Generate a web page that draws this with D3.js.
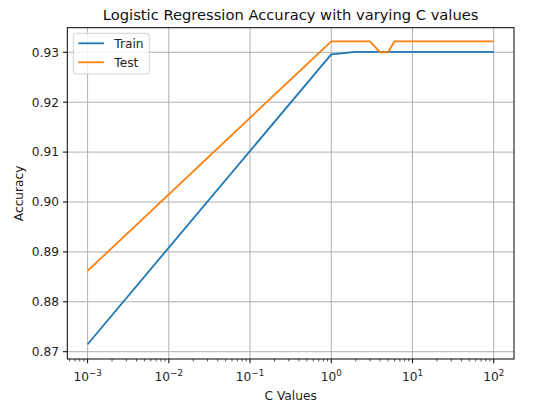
<!DOCTYPE html>
<html>
<head>
<meta charset="utf-8">
<script src="https://cdn.jsdelivr.net/npm/d3@7"></script>
<style>
    body{margin:0;background:#fff;}
    svg{font-family:"DejaVu Sans",sans-serif;}
</style>
</head>
<body>
<svg id="chart"></svg>
<script>
// data
const c_values = [0.001, 1, 2, 3, 4, 5, 6, 100];
const train_acc = [0.8715, 0.9296, 0.9301, 0.9301, 0.9301, 0.9301, 0.9301, 0.9301];
const test_acc = [0.8862, 0.9322, 0.9322, 0.9322, 0.9300, 0.9300, 0.9322, 0.9322];
const y_ticks = [0.87, 0.88, 0.89, 0.90, 0.91, 0.92, 0.93];
const x_exponents = [-3, -2, -1, 0, 1, 2];
const series_names = ["Train", "Test"];
const series_colors = ["#1f77b4", "#ff7f0e"];

const width = 540, height = 420;
const margin = {left:67.3, right:26, top:27.7, bottom:61};
const inner_width = width - margin.left - margin.right;
const inner_height = height - margin.top - margin.bottom;
const font_size = 12.2;

const svg = d3.select("#chart").attr("width", width).attr("height", height);
const chart = svg.append("g")
    .attr("transform", `translate(${margin.left},${margin.top})`);

const xscale = d3.scaleLog()
    .domain([Math.pow(10, -3.25), Math.pow(10, 2.25)])
    .range([0, inner_width]);
const yscale = d3.scaleLinear()
    .domain([0.86854, 0.93493])
    .range([inner_height, 0]);

// grid
chart.append("g").selectAll("line.gx")
    .data(x_exponents)
    .join("line")
    .attr("x1", d => xscale(Math.pow(10, d))).attr("x2", d => xscale(Math.pow(10, d)))
    .attr("y1", 0).attr("y2", inner_height)
    .attr("stroke", "#b0b0b0").attr("stroke-width", 1);
chart.append("g").selectAll("line.gy")
    .data(y_ticks)
    .join("line")
    .attr("y1", d => yscale(d)).attr("y2", d => yscale(d))
    .attr("x1", 0).attr("x2", inner_width)
    .attr("stroke", "#b0b0b0").attr("stroke-width", 1);

// lines
const series = [train_acc, test_acc];
const line = d3.line()
    .x((d, i) => xscale(c_values[i]))
    .y(d => yscale(d));
chart.append("g").selectAll("path")
    .data(series)
    .join("path")
    .attr("d", d => line(d))
    .attr("fill", "none")
    .attr("stroke", (d, i) => series_colors[i])
    .attr("stroke-width", 1.8)
    .attr("stroke-linejoin", "round");

// x axis: major and minor ticks
const minor = [];
for (let e = -4; e <= 2; e++) {
    for (let m = 2; m <= 9; m++) {
        const v = m * Math.pow(10, e);
        if (v >= xscale.domain()[0] && v <= xscale.domain()[1]) minor.push(v);
    }
}
const xaxis_group = chart.append("g").attr("transform", `translate(0,${inner_height})`);
xaxis_group.selectAll("line.minor")
    .data(minor)
    .join("line")
    .attr("x1", d => xscale(d)).attr("x2", d => xscale(d))
    .attr("y1", 0).attr("y2", 2.4)
    .attr("stroke", "#000").attr("stroke-width", 0.7);
xaxis_group.selectAll("line.major")
    .data(x_exponents)
    .join("line")
    .attr("x1", d => xscale(Math.pow(10, d))).attr("x2", d => xscale(Math.pow(10, d)))
    .attr("y1", 0).attr("y2", 4.3)
    .attr("stroke", "#000").attr("stroke-width", 1);
const xlabels = xaxis_group.selectAll("text")
    .data(x_exponents)
    .join("text")
    .attr("x", d => xscale(Math.pow(10, d)))
    .attr("y", 22)
    .attr("text-anchor", "middle")
    .attr("font-size", font_size)
    .attr("fill", "#222");
xlabels.append("tspan").text("10");
xlabels.append("tspan")
    .attr("dy", -5)
    .attr("font-size", font_size * 0.72)
    .text(d => d < 0 ? "\u2212" + Math.abs(d) : d);

// y axis
const yaxis_group = chart.append("g");
yaxis_group.selectAll("line")
    .data(y_ticks)
    .join("line")
    .attr("x1", -4.3).attr("x2", 0)
    .attr("y1", d => yscale(d)).attr("y2", d => yscale(d))
    .attr("stroke", "#000").attr("stroke-width", 1);
yaxis_group.selectAll("text")
    .data(y_ticks)
    .join("text")
    .attr("x", -8.4)
    .attr("y", d => yscale(d))
    .attr("dy", "0.36em")
    .attr("text-anchor", "end")
    .attr("font-size", font_size)
    .attr("fill", "#222")
    .text(d => d3.format(".2f")(d));

// frame
chart.append("rect")
    .attr("width", inner_width).attr("height", inner_height)
    .attr("fill", "none").attr("stroke", "#000").attr("stroke-width", 1);

// labels
svg.append("text")
    .attr("x", margin.left + inner_width / 2).attr("y", 20)
    .attr("text-anchor", "middle")
    .attr("font-size", 14.7)
    .attr("fill", "#111")
    .text("Logistic Regression Accuracy with varying C values");
svg.append("text")
    .attr("x", margin.left + inner_width / 2).attr("y", 400)
    .attr("text-anchor", "middle")
    .attr("font-size", font_size)
    .attr("fill", "#222")
    .text("C Values");
svg.append("text")
    .attr("transform", `translate(23,${margin.top + inner_height / 2}) rotate(-90)`)
    .attr("text-anchor", "middle")
    .attr("font-size", font_size)
    .attr("fill", "#222")
    .text("Accuracy");

// legend
const legend = chart.append("g").attr("transform", "translate(6,5.6)");
legend.append("rect")
    .attr("width", 76).attr("height", 40.7)
    .attr("rx", 3)
    .attr("fill", "#fff").attr("fill-opacity", 0.8)
    .attr("stroke", "#d0d0d0").attr("stroke-width", 1);
const items = legend.selectAll("g.item")
    .data(series_names)
    .join("g")
    .attr("transform", (d, i) => `translate(0,${10 + i * 19})`);
items.append("line")
    .attr("x1", 5).attr("x2", 30.7)
    .attr("stroke", (d, i) => series_colors[i])
    .attr("stroke-width", 1.8);
items.append("text")
    .attr("x", 41).attr("dy", "0.36em")
    .attr("font-size", font_size)
    .attr("fill", "#222")
    .text(d => d);
</script>
</body>
</html>
